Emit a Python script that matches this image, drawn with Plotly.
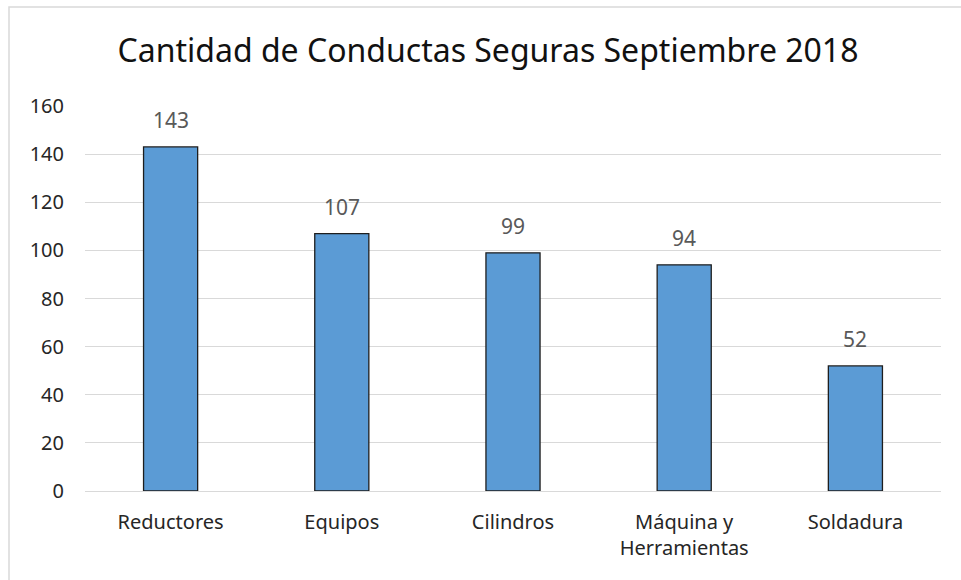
import plotly.graph_objects as go

# Safe-behaviour counts by category, September 2018
categories = ["Reductores", "Equipos", "Cilindros", "Máquina y<br>Herramientas", "Soldadura"]
values = [143, 107, 99, 94, 52]
y_ticks = [0, 20, 40, 60, 80, 100, 120, 140, 160]

W, H = 961, 580
ML, MR, MT, MB = 85, 20, 106, 89
font_family = "Noto Sans, Open Sans, sans-serif"

fig = go.Figure(
    go.Bar(
        x=categories,
        y=values,
        width=0.316,
        marker=dict(color="#5B9BD5", line=dict(color="#1e1e1e", width=1.3)),
        hoverinfo="x+y",
    )
)

# value labels above each bar
for c, v in zip(categories, values):
    fig.add_annotation(
        x=c, y=v, text=str(v),
        showarrow=False, yanchor="bottom", yshift=11,
        font=dict(color="#595959", size=21, family=font_family),
    )

pw = W - ML - MR
ph = H - MT - MB

# outer frame of the chart
fig.add_shape(
    type="rect",
    xref="paper", yref="paper",
    x0=(9 - ML) / pw, x1=(W + 5 - ML) / pw,
    y0=-(H + 5 - MT - ph) / ph, y1=(ph + MT - 7) / ph,
    line=dict(color="#D9D9D9", width=1.5),
    fillcolor="rgba(0,0,0,0)",
    layer="below",
)

fig.update_layout(
    width=W, height=H,
    margin=dict(l=ML, r=MR, t=MT, b=MB),
    paper_bgcolor="white",
    plot_bgcolor="white",
    title=dict(
        text="Cantidad de Conductas Seguras Septiembre 2018",
        x=(488 / W), xanchor="center",
        y=1 - 51 / H, yanchor="middle",
        font=dict(size=32, color="#111111", family=font_family),
    ),
    showlegend=False,
    bargap=0.684,
    font=dict(family=font_family),
)

fig.update_yaxes(
    range=[0, 160],
    tickvals=y_ticks,
    showgrid=True, gridcolor="#D9D9D9", gridwidth=1,
    zeroline=True, zerolinecolor="#D9D9D9", zerolinewidth=1,
    showline=False,
    ticks="",
    ticklabelstandoff=20,
    tickfont=dict(size=20, color="#262626", family=font_family),
)
fig.update_xaxes(
    showgrid=False,
    showline=False,
    ticks="",
    ticklabelstandoff=17,
    tickfont=dict(size=20, color="#262626", family=font_family),
)

fig.write_html("out.html")
